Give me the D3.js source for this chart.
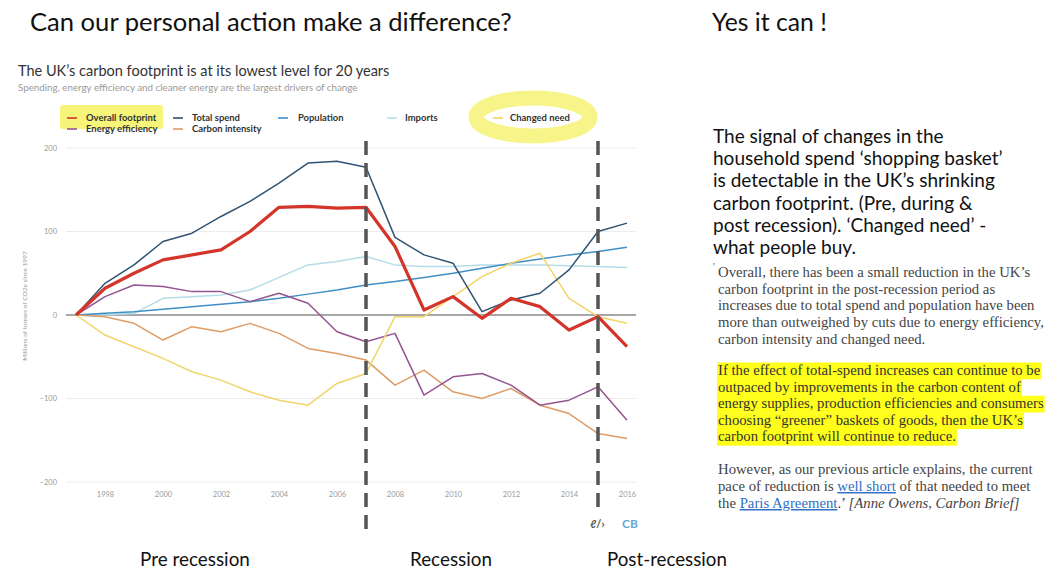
<!DOCTYPE html>
<html><head><meta charset="utf-8">
<script src="https://cdn.jsdelivr.net/npm/d3@7"></script>
<style>body{margin:0;background:#fff}svg{display:block}</style>
</head><body><svg id="c" width="1048" height="569"></svg>
<script>
// ---------- DATA ----------
const years = [1997,1998,1999,2000,2001,2002,2003,2004,2005,2006,2007,2008,2009,2010,2011,2012,2013,2014,2015,2016];
const overallFootprint = [0,32,50,66,72,78,100,129,130,128,129,82,6,22,-4,20,10,-18,-2,-38];
const totalSpend       = [0,38,60,88,98,118,136,158,182,184,177,93,72,62,4,18,26,54,100,110];
const population       = [0,2,4,7,10,13,16,20,25,30,36,40,45,50,56,62,67,72,76,81];
const imports          = [0,0,2,20,22,24,30,45,60,64,70,60,58,58,60,60,60,59,58,57];
const changedNeed      = [0,-24,-38,-52,-68,-78,-92,-102,-108,-82,-70,-2,-2,22,46,62,74,20,-2,-10];
const energyEfficiency = [0,22,36,34,28,28,16,26,14,-20,-32,-22,-96,-74,-70,-84,-108,-102,-86,-126];
const carbonIntensity  = [0,-2,-10,-30,-14,-20,-10,-22,-40,-46,-54,-84,-66,-92,-100,-88,-108,-118,-142,-148];
const yTicks = [-200,-100,0,100,200];
const xTicks = [1998,2000,2002,2004,2006,2008,2010,2012,2014,2016];
const periodBreaks = [2007,2015];
const periodLabels = ["Pre recession","Recession","Post-recession"];

const seriesNames = ["Imports","Population","Carbon intensity","Energy efficiency","Changed need","Total spend","Overall footprint"];
const seriesValues = [imports,population,carbonIntensity,energyEfficiency,changedNeed,totalSpend,overallFootprint];
const colors = {"Overall footprint":"#d4352b","Total spend":"#2f5373","Population":"#3f8fc6","Imports":"#b4dce9",
  "Changed need":"#f1d46a","Energy efficiency":"#94548f","Carbon intensity":"#de9c66"};

const svg = d3.select("#c");
const SANS = "Lato, 'Open Sans', sans-serif";
const SERIF = "'Liberation Serif', 'DejaVu Serif', serif";

function fitFS(sel, target){
  const w = sel.node().getComputedTextLength();
  const fs = parseFloat(sel.attr("font-size"));
  return fs*target/w;
}

// ---------- Headings ----------
const t1 = svg.append("text").attr("x",30).attr("y",31).attr("font-family",SANS).attr("font-size",22)
  .attr("fill","#111").text("Can our personal action make a difference?");
t1.attr("font-size", fitFS(t1,482));
const t2 = svg.append("text").attr("x",712).attr("y",31).attr("font-family",SANS).attr("font-size",22)
  .attr("fill","#111").text("Yes it can !");
t2.attr("font-size", fitFS(t2,115));

// ---------- Chart ----------
const x = d3.scaleLinear().domain([1997,2016]).range([76,627]);
const y = d3.scaleLinear().domain([-200,200]).range([482,148]);

const ct = svg.append("text").attr("x",18).attr("y",76).attr("font-family",SANS).attr("font-size",13)
  .attr("fill","#333").text("The UK’s carbon footprint is at its lowest level for 20 years");
ct.attr("font-size", fitFS(ct,372));
const cs = svg.append("text").attr("x",18).attr("y",91).attr("font-family",SANS).attr("font-size",7)
  .attr("fill","#9a9a9a").text("Spending, energy efficiency and cleaner energy are the largest drivers of change");
cs.attr("font-size", fitFS(cs,340));

// legend highlight + ellipse
svg.append("rect").attr("x",60).attr("y",105).attr("width",103).attr("height",24).attr("rx",3).attr("fill","#f7f47a");
svg.append("ellipse").attr("cx",533).attr("cy",117).attr("rx",57).attr("ry",19)
  .attr("fill","none").attr("stroke","#f7f58a").attr("stroke-width",15);

const legendItems = [
  {n:"Overall footprint",sx:67,tx:86,y:118},{n:"Total spend",sx:173,tx:192,y:118},
  {n:"Population",sx:278,tx:298,y:118},{n:"Imports",sx:387,tx:405,y:118},{n:"Changed need",sx:493,tx:510,y:118},
  {n:"Energy efficiency",sx:67,tx:86,y:129},{n:"Carbon intensity",sx:173,tx:192,y:129}];
const lg = svg.append("g");
const lt = lg.selectAll("text").data(legendItems).join("text")
  .attr("x",d=>d.tx).attr("y",d=>d.y+2.5).attr("font-family",SANS).attr("font-weight",700)
  .attr("font-size",7).attr("fill","#333").text(d=>d.n);
const lfs = fitFS(lt.filter(d=>d.n==="Total spend"),48);
lt.attr("font-size",lfs);
lg.selectAll("line").data(legendItems).join("line")
  .attr("x1",d=>d.sx).attr("x2",d=>d.sx+10).attr("y1",d=>d.y).attr("y2",d=>d.y)
  .attr("stroke",d=>colors[d.n]).attr("stroke-width",1.6);

// grid
const grid = svg.append("g");
grid.selectAll("line").data(yTicks).join("line")
  .attr("x1",66).attr("x2",636).attr("y1",d=>y(d)).attr("y2",d=>y(d))
  .attr("stroke",d=>d===0?"#8a8a8a":"#ececec").attr("stroke-width",d=>d===0?1.3:1);

// axes
const yAx = svg.append("g").attr("transform","translate(66,0)")
  .call(d3.axisLeft(y).tickValues(yTicks).tickSize(0).tickPadding(9).tickFormat(d3.format("d")));
yAx.select(".domain").remove();
yAx.selectAll("text").attr("font-family",SANS).attr("font-size",7.5).attr("fill","#9a9a9a");
const xAx = svg.append("g").attr("transform","translate(0,486)")
  .call(d3.axisBottom(x).tickValues(xTicks).tickSize(0).tickPadding(6).tickFormat(d3.format("d")));
xAx.select(".domain").remove();
xAx.selectAll("text").attr("font-family",SANS).attr("font-size",7.5).attr("fill","#9a9a9a");

svg.append("text").attr("transform","translate(27,306) rotate(-90)").attr("text-anchor","middle")
  .attr("font-family",SANS).attr("font-size",6.5).attr("fill","#9a9a9a")
  .text("Millions of tonnes of CO2e since 1997");

// lines
const line = d3.line().x((d,i)=>x(years[i])).y(d=>y(d));
svg.append("g").selectAll("path").data(seriesNames).join("path")
  .attr("d",(n,i)=>line(seriesValues[i]))
  .attr("fill","none").attr("stroke",n=>colors[n])
  .attr("stroke-width",n=>n==="Overall footprint"?3.2:1.5)
  .attr("stroke-linejoin","round");

// period dashed lines
const dashEnds = [532,515];
svg.append("g").selectAll("line").data(periodBreaks).join("line")
  .attr("x1",d=>x(d)).attr("x2",d=>x(d)).attr("y1",141).attr("y2",(d,i)=>dashEnds[i])
  .attr("stroke","#555").attr("stroke-width",3.5).attr("stroke-dasharray","14 8");

// logo
svg.append("text").attr("x",590).attr("y",528).attr("font-family",SANS).attr("font-weight",700)
  .attr("font-size",11).attr("fill","#555").text("ℓ/›");
svg.append("text").attr("x",622).attr("y",528).attr("font-family",SANS).attr("font-weight",700)
  .attr("font-size",12).attr("fill","#6aa6d6").text("CB");

// period labels
const plx = [140,410,607], plw = [110,82,120];
svg.append("g").selectAll("text").data(periodLabels).join("text")
  .attr("x",(d,i)=>plx[i]).attr("y",566).attr("font-family",SANS).attr("font-size",17)
  .attr("fill","#111").text(d=>d)
  .each(function(d,i){ const s=d3.select(this); s.attr("font-size", fitFS(s,plw[i])); });

// ---------- Right text ----------
const rLines = ["The signal of changes in the","household spend ‘shopping basket’","is detectable in the UK’s shrinking",
  "carbon footprint. (Pre, during &","post recession). ‘Changed need’ -","what people buy."];
const rt = svg.append("g").selectAll("text").data(rLines).join("text")
  .attr("x",713).attr("y",(d,i)=>143+i*22.2).attr("font-family",SANS).attr("font-size",17)
  .attr("fill","#111").text(d=>d);
rt.attr("font-size", fitFS(rt.filter((d,i)=>i===1),290));

const q1 = ["Overall, there has been a small reduction in the UK’s","carbon footprint in the post-recession period as",
  "increases due to total spend and population have been","more than outweighed by cuts due to energy efficiency,",
  "carbon intensity and changed need."];
const q2 = ["If the effect of total-spend increases can continue to be","outpaced by improvements in the carbon content of",
  "energy supplies, production efficiencies and consumers","choosing “greener” baskets of goods, then the UK’s",
  "carbon footprint will continue to reduce."];
const QX = 718;
svg.append("text").attr("x",713).attr("y",270).attr("font-family",SERIF).attr("font-size",10).attr("fill","#444").text("'");
const qa = svg.append("g").selectAll("text").data(q1).join("text")
  .attr("x",QX).attr("y",(d,i)=>277+i*16.7).attr("font-family",SERIF).attr("font-size",13)
  .attr("fill","#444").text(d=>d);

const hg = svg.append("g");
const qb = hg.selectAll("text").data(q2).join("text")
  .attr("x",QX).attr("y",(d,i)=>375+i*16.6).attr("font-family",SERIF).attr("font-size",13)
  .attr("fill","#333").text(d=>d);

// common font size: widest line fits the column (718 -> 1045)
let maxW = 0;
qa.each(function(){ maxW = Math.max(maxW, this.getComputedTextLength()); });
qb.each(function(){ maxW = Math.max(maxW, this.getComputedTextLength()); });
const qfs = 13*326/maxW;
qa.attr("font-size",qfs);
qb.attr("font-size",qfs);
qb.each(function(d,i){
  const w=this.getComputedTextLength();
  hg.insert("rect","text").attr("x",QX-1).attr("y",375+i*16.6-12.5).attr("width",w+2).attr("height",16.8).attr("fill","#ffff1a");
});

const hx = svg.append("g").attr("font-family",SERIF).attr("font-size",qfs).attr("fill","#444");
hx.append("text").attr("x",QX).attr("y",474).text("However, as our previous article explains, the current");
const l2 = hx.append("text").attr("x",QX).attr("y",491);
l2.append("tspan").text("pace of reduction is ");
l2.append("tspan").attr("fill","#2f6fc4").attr("text-decoration","underline").text("well short");
l2.append("tspan").text(" of that needed to meet");
const l3 = hx.append("text").attr("x",QX).attr("y",508);
l3.append("tspan").text("the ");
l3.append("tspan").attr("fill","#2f6fc4").attr("text-decoration","underline").text("Paris Agreement");
l3.append("tspan").text(".’  ");
l3.append("tspan").attr("font-style","italic").text("[Anne Owens, Carbon Brief]");
</script></body></html>
